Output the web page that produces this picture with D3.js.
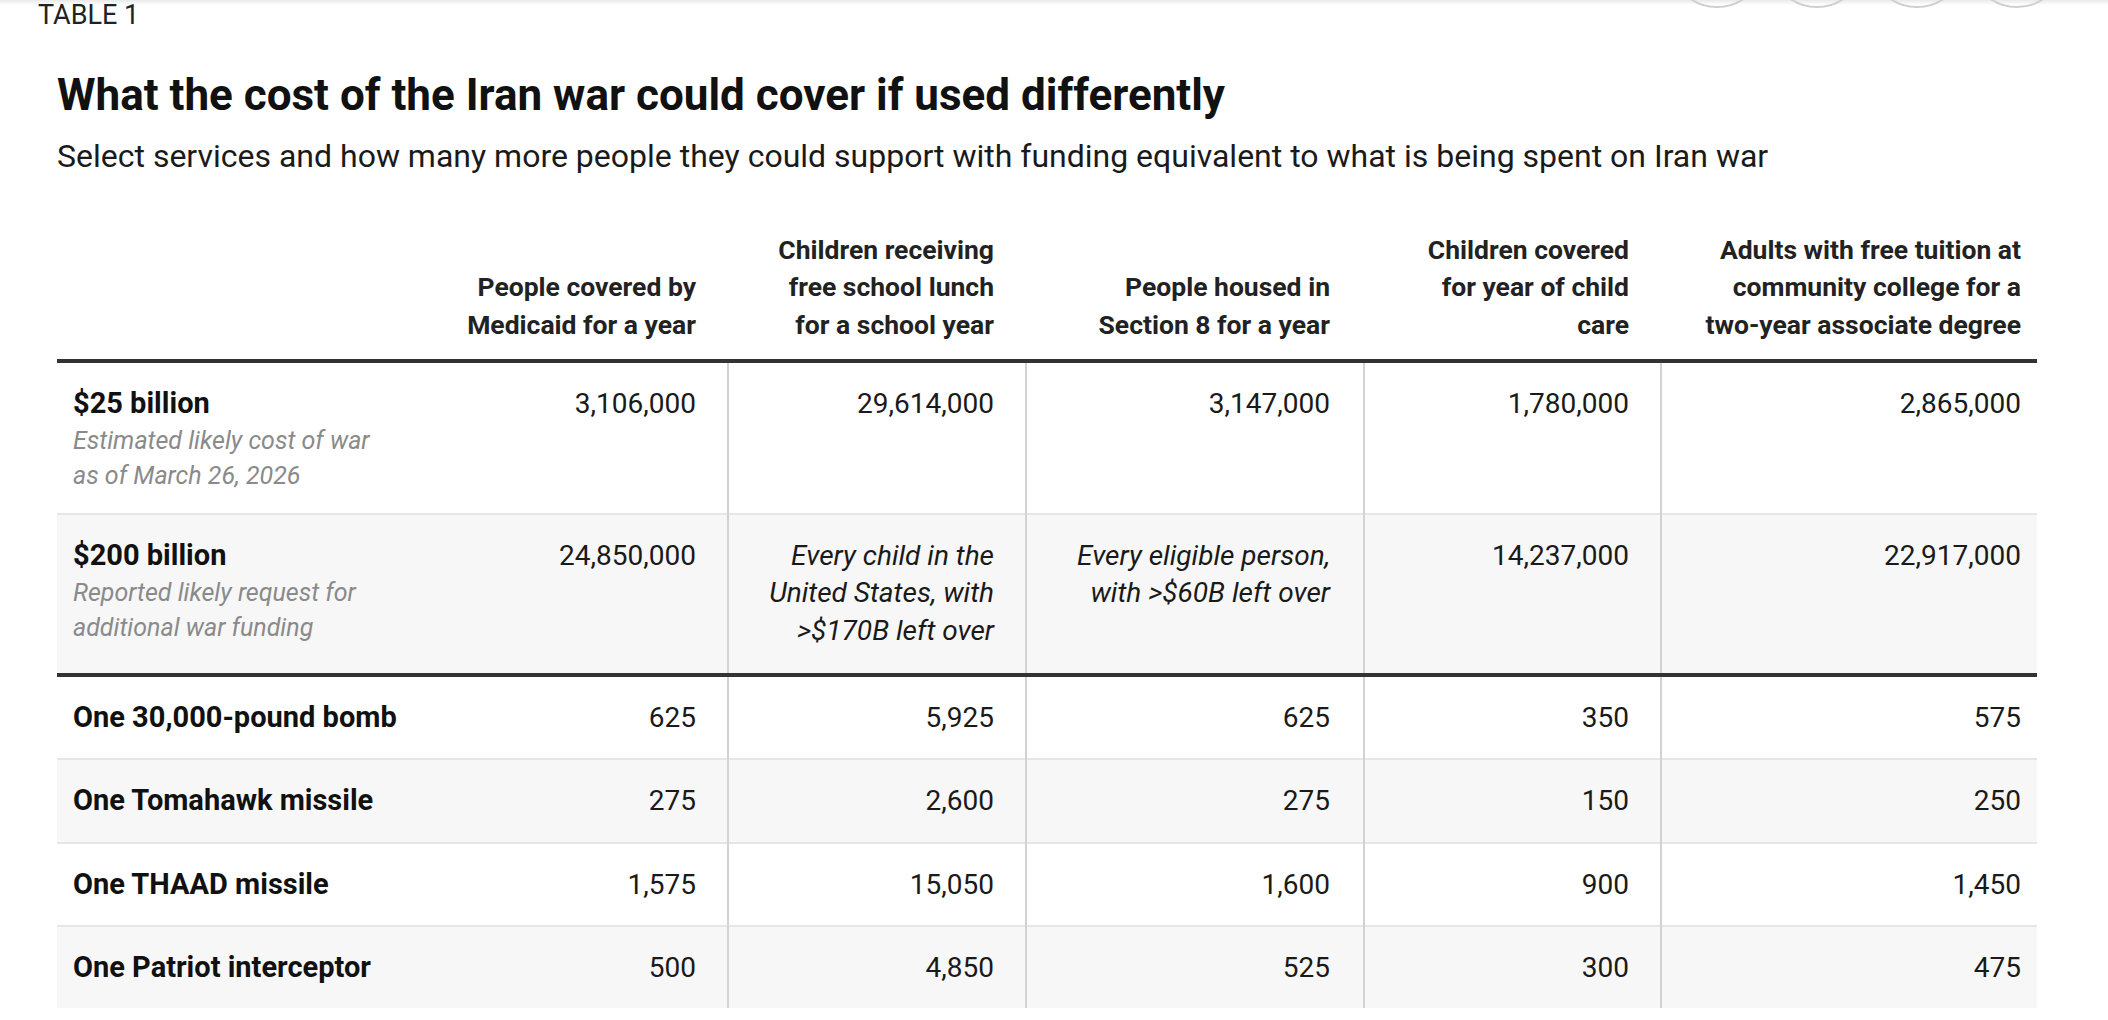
<!DOCTYPE html>
<html>
<head>
<meta charset="utf-8">
<script src="https://cdn.jsdelivr.net/npm/d3@7"></script>
<style>
  html, body { margin: 0; padding: 0; background: #fff; }
  svg { display: block; font-family: Roboto, "Noto Sans", sans-serif; }
</style>
</head>
<body>
<svg id="chart" width="2108" height="1020"></svg>
<script>
// table content
const kicker = "TABLE 1";
const title = "What the cost of the Iran war could cover if used differently";
const subtitle = "Select services and how many more people they could support with funding equivalent to what is being spent on Iran war";

const columnHeads = [
  ["People covered by", "Medicaid for a year"],
  ["Children receiving", "free school lunch", "for a school year"],
  ["People housed in", "Section 8 for a year"],
  ["Children covered", "for year of child", "care"],
  ["Adults with free tuition at", "community college for a", "two-year associate degree"]
];

const rowLabels = ["$25 billion", "$200 billion", "One 30,000-pound bomb", "One Tomahawk missile", "One THAAD missile", "One Patriot interceptor"];
const rowNotes = [
  ["Estimated likely cost of war", "as of March 26, 2026"],
  ["Reported likely request for", "additional war funding"],
  [], [], [], []
];

const medicaid = [3106000, 24850000, 625, 275, 1575, 500];
const schoolLunch = [29614000, null, 5925, 2600, 15050, 4850];
const section8 = [3147000, null, 625, 275, 1600, 525];
const childCare = [1780000, 14237000, 350, 150, 900, 300];
const tuition = [2865000, 22917000, 575, 250, 1450, 475];

// text shown instead of a number
const cellNotes = {
  "1-1": ["Every child in the", "United States, with", ">$170B left over"],
  "1-2": ["Every eligible person,", "with >$60B left over"]
};

const series = [medicaid, schoolLunch, section8, childCare, tuition];
const fmt = d3.format(",");

const svg = d3.select("#chart");

// layout
const left = 57, right = 2037;
const lineH = 37.6;
const rowHeights = [150, 158, 81, 82, 81, 81];
const rowTop0 = 363;

const colX = d3.scaleOrdinal().domain(d3.range(5)).range([696, 994, 1330, 1629, 2021]);
const sepX = d3.scaleOrdinal().domain(d3.range(4)).range([728, 1026, 1364, 1661]);

const rowTops = [];
let acc = rowTop0;
rowHeights.forEach((h, i) => {
  rowTops.push(acc);
  acc += h + (i === 1 ? 4 : 2);
});
const tableBottom = 1008;

// faint shadow along top edge
const grad = svg.append("defs").append("linearGradient")
  .attr("id", "topfade").attr("x1", 0).attr("x2", 0).attr("y1", 0).attr("y2", 1);
grad.append("stop").attr("offset", "0%").attr("stop-color", "#e9e9e9");
grad.append("stop").attr("offset", "100%").attr("stop-color", "#fff");
svg.append("rect").attr("x", 0).attr("y", 0).attr("width", 2108).attr("height", 5).attr("fill", "url(#topfade)");

// share buttons cut off at the top
svg.selectAll("circle.share").data(d3.range(4)).join("circle")
  .attr("class", "share")
  .attr("cx", d => 1717 + d * 100)
  .attr("cy", -40)
  .attr("r", 47)
  .attr("fill", "none")
  .attr("stroke", "#cfcfcf")
  .attr("stroke-width", 2);

svg.append("text").attr("x", 38).attr("y", 23.5)
  .attr("font-size", 27).attr("fill", "#222").text(kicker);

svg.append("text").attr("x", 57).attr("y", 110)
  .attr("font-size", 44).attr("font-weight", 700).attr("fill", "#111").text(title);

svg.append("text").attr("x", 57).attr("y", 167)
  .attr("font-size", 32).attr("fill", "#1a1a1a").text(subtitle);

// row backgrounds
svg.selectAll("rect.band").data(rowLabels).join("rect")
  .attr("class", "band")
  .attr("x", left).attr("width", right - left)
  .attr("y", (d, i) => rowTops[i])
  .attr("height", (d, i) => rowHeights[i])
  .attr("fill", (d, i) => i % 2 ? "#f7f7f7" : "#fff");

// light row rules
svg.selectAll("line.rule").data([0, 2, 3, 4]).join("line")
  .attr("class", "rule")
  .attr("x1", left).attr("x2", right)
  .attr("y1", i => rowTops[i] + rowHeights[i] + 1)
  .attr("y2", i => rowTops[i] + rowHeights[i] + 1)
  .attr("stroke", "#e6e6e6").attr("stroke-width", 2);

// column separators
svg.selectAll("line.sep").data(d3.range(4)).join("line")
  .attr("class", "sep")
  .attr("x1", d => sepX(d)).attr("x2", d => sepX(d))
  .attr("y1", rowTop0).attr("y2", tableBottom)
  .attr("stroke", "#d2d2d2").attr("stroke-width", 2);

// heavy rules
svg.selectAll("line.heavy").data([361, rowTops[1] + rowHeights[1] + 2]).join("line")
  .attr("class", "heavy")
  .attr("x1", left).attr("x2", right)
  .attr("y1", d => d).attr("y2", d => d)
  .attr("stroke", "#333").attr("stroke-width", 4);

// column headers, bottom aligned
const heads = svg.selectAll("text.head").data(columnHeads).join("text")
  .attr("class", "head")
  .attr("text-anchor", "end")
  .attr("font-size", 26.5).attr("font-weight", 700).attr("fill", "#222");
heads.selectAll("tspan").data((d, i) => d.map((t, j) => ({ t, j, n: d.length, i }))).join("tspan")
  .attr("x", d => colX(d.i))
  .attr("y", d => 334 - (d.n - 1 - d.j) * lineH)
  .text(d => d.t);

// row labels + notes
const labels = svg.selectAll("g.label").data(rowLabels).join("g").attr("class", "label");
labels.append("text")
  .attr("x", 73).attr("y", (d, i) => rowTops[i] + 49.5)
  .attr("font-size", 29).attr("font-weight", 700).attr("fill", "#111")
  .text(d => d);
labels.append("text")
  .attr("font-size", 25).attr("font-style", "italic").attr("fill", "#8a8a8a")
  .selectAll("tspan").data((d, i) => rowNotes[i].map((t, j) => ({ t, j, i }))).join("tspan")
  .attr("x", 73)
  .attr("y", d => rowTops[d.i] + 49.5 + 36.6 + d.j * 35)
  .text(d => d.t);

// values
const cells = [];
series.forEach((s, c) => s.forEach((v, r) => cells.push({ c, r, v })));
const cellText = svg.selectAll("text.cell").data(cells).join("text")
  .attr("class", "cell")
  .attr("text-anchor", "end")
  .attr("font-size", 28).attr("fill", "#1a1a1a")
  .attr("font-style", d => d.v === null ? "italic" : null);
cellText.selectAll("tspan")
  .data(d => (d.v === null ? cellNotes[d.r + "-" + d.c] : [fmt(d.v)]).map((t, j) => ({ t, j, d })))
  .join("tspan")
  .attr("x", d => colX(d.d.c))
  .attr("y", d => rowTops[d.d.r] + 49.5 + d.j * lineH)
  .text(d => d.t);
</script>
</body>
</html>
